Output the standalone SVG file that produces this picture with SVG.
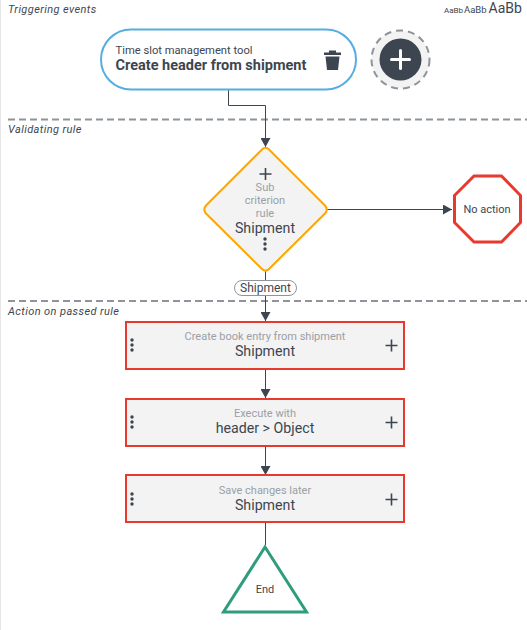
<svg xmlns="http://www.w3.org/2000/svg" width="527" height="630" viewBox="0 0 527 630">
<style>
text{font-family:Roboto,"Liberation Sans",sans-serif;fill:#3d4650}
.band{font-size:11px;font-style:italic;letter-spacing:.4px}
.sep{stroke:#8e9499;stroke-width:2;stroke-dasharray:7 4;fill:none}
.c{text-anchor:middle}
.sub{font-size:11px;fill:#9aa0a6}
.main{font-size:14.200px}
.box{fill:#f3f3f3;stroke:#e8392f;stroke-width:2}
.ln{stroke:#3d4650;stroke-width:1;fill:none}
.ic{stroke:#3d4650;stroke-width:1.6;fill:none}
.dot{fill:#3d4650}
</style>
<defs>
<marker id="a" markerUnits="userSpaceOnUse" markerWidth="9" markerHeight="10" refX="9" refY="5" orient="auto"><path d="M0 0L9 5L0 10Z" fill="#3d4650"/></marker>
<g id="plus"><path d="M-6 0H6M0-6V6" class="ic"/></g>
<g id="dots"><circle cx="0" cy="-5" r="1.7" class="dot"/><circle cx="0" cy="0" r="1.7" class="dot"/><circle cx="0" cy="5" r="1.7" class="dot"/></g>
</defs>
<rect width="527" height="630" fill="#fff"/>
<path d="M0.500 0V630" stroke="#e6e6e6" fill="none"/>
<g id="bands">
<text class="band" x="8" y="13">Triggering events</text>
<text class="band" x="8" y="133">Validating rule</text>
<text class="band" x="8" y="315">Action on passed rule</text>
<path class="sep" d="M8 119.500H527"/>
<path class="sep" d="M8 301H527"/>
<text x="444" y="13" font-size="8">AaBb</text>
<text x="464" y="13" font-size="9.500">AaBb</text>
<text x="488.500" y="13" font-size="14">AaBb</text>
</g>
<g id="connectors">
<path class="ln" d="M228.500 90V105.500H265.500V147" marker-end="url(#a)"/>
<path class="ln" d="M327 209.500H452" marker-end="url(#a)"/>
<path class="ln" d="M265.500 271V321" marker-end="url(#a)"/>
<path class="ln" d="M265.500 369V398" marker-end="url(#a)"/>
<path class="ln" d="M265.500 446V475" marker-end="url(#a)"/>
<path class="ln" d="M265.500 522V545"/>
</g>
<g id="trigger">
<rect x="101" y="29.500" width="255" height="60" rx="30" fill="#fff" stroke="#55ade0" stroke-width="2"/>
<text x="115.500" y="54" font-size="11.200">Time slot management tool</text>
<text x="115.500" y="70" font-size="14.500" font-weight="700">Create header from shipment</text>
<path d="M324 52.500H341V55H324ZM329 52.500V50.500H336V52.500ZM325.500 56.500H339.500L338 70H327Z" fill="#3d4650"/>
</g>
<g id="add">
<circle cx="400.500" cy="59.500" r="29" fill="#f3f3f3" stroke="#8e9499" stroke-width="2" stroke-dasharray="7 5"/>
<circle cx="400.500" cy="59.500" r="21" fill="#3d4650"/>
<path d="M391.500 59.500H409.500M400.500 50.500V68.500" stroke="#fff" stroke-width="3" stroke-linecap="round" fill="none"/>
</g>
<g id="rule">
<path d="M262 149.500Q265.500 146 269 149.500L325 205.500Q328.500 209.500 325 213.500L269 269Q265.500 272.500 262 269L206 213.500Q202.500 209.500 206 205.500Z" fill="#f3f3f3" stroke="#ffa500" stroke-width="2"/>
<use href="#plus" x="265.500" y="174"/>
<text class="c sub" x="265" y="191">Sub</text>
<text class="c sub" x="265" y="204">criterion</text>
<text class="c sub" x="265" y="217">rule</text>
<text class="c main" x="265" y="233">Shipment</text>
<use href="#dots" x="265" y="244"/>
</g>
<g id="noaction">
<path d="M474 176H501.500L520.500 195.500V222.500L501.500 242H474L454.500 222.500V195.500Z" fill="#fff" stroke="#e8392f" stroke-width="3"/>
<text class="c" x="487" y="213" font-size="11">No action</text>
</g>
<g id="shipment-label">
<rect x="234.500" y="280.500" width="62" height="15" rx="7.500" fill="#fff" stroke="#8e9499"/>
<text class="c" x="265.500" y="292" font-size="12">Shipment</text>
</g>
<g id="step1">
<rect class="box" x="126" y="322" width="278" height="47"/>
<text class="c sub" x="265" y="340">Create book entry from shipment</text>
<text class="c main" x="265" y="356">Shipment</text>
<use href="#dots" x="132" y="345"/><use href="#plus" x="391.500" y="345.500"/>
</g>
<g id="step2">
<rect class="box" x="126" y="399" width="278" height="47"/>
<text class="c sub" x="265" y="417">Execute with</text>
<text class="c main" x="265" y="433">header &gt; Object</text>
<use href="#dots" x="132" y="422"/><use href="#plus" x="391.500" y="422.500"/>
</g>
<g id="step3">
<rect class="box" x="126" y="475" width="278" height="47"/>
<text class="c sub" x="265" y="494">Save changes later</text>
<text class="c main" x="265" y="510">Shipment</text>
<use href="#dots" x="132" y="499"/><use href="#plus" x="391.500" y="499.500"/>
</g>
<g id="end">
<path d="M265 547L306.500 612H223.500Z" fill="#fff" stroke="#2f9c7d" stroke-width="3"/>
<text class="c" x="265" y="593" font-size="11">End</text>
</g>
</svg>
